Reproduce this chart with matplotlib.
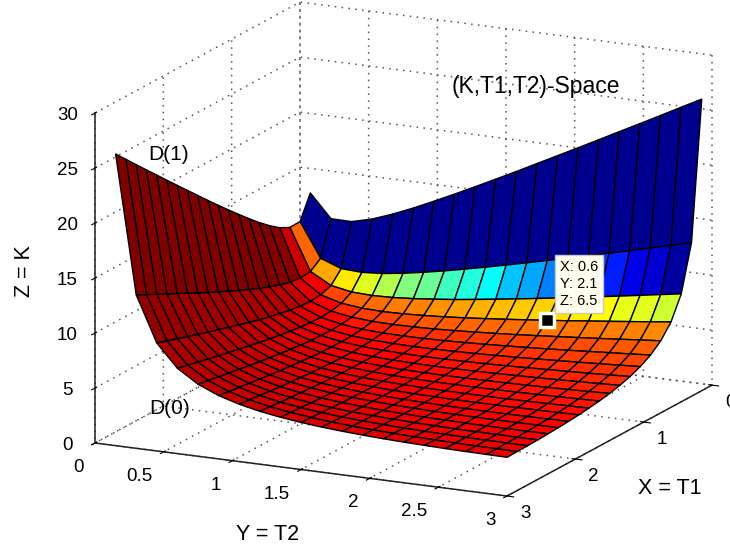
#!/usr/bin/env python3
import numpy as np
import matplotlib
matplotlib.use("Agg")
import matplotlib.pyplot as plt
from matplotlib.colors import LinearSegmentedColormap
from mpl_toolkits.mplot3d import proj3d

W, H = 730, 544

t1 = [0.15, 0.3, 0.45, 0.6, 0.75, 0.9, 1.05, 1.2, 1.35, 1.5,
      1.65, 1.8, 1.95, 2.1, 2.25, 2.4, 2.55, 2.7, 2.85, 3.0]
t2 = list(t1)

# K. The surface is mirrored about T1 = T2, so only the
# part with T1 >= T2 is listed, one row per T2 value.
k_upper = [
    [13.4, 11.3, 11.27, 11.75, 12.44, 13.23, 14.09, 14.98, 15.89, 16.82,
     17.76, 18.72, 19.68, 20.64, 21.61, 22.59, 23.56, 24.54, 25.53, 26.51],
    [8.2, 7.5, 7.4, 7.54, 7.8, 8.13, 8.5, 8.9, 9.32, 9.75,
     10.2, 10.65, 11.11, 11.58, 12.05, 12.52, 13.0, 13.48, 13.96],
    [6.47, 6.12, 6.04, 6.1, 6.24, 6.43, 6.64, 6.89, 7.15, 7.42,
     7.7, 7.99, 8.28, 8.58, 8.88, 9.19, 9.5, 9.81],
    [5.6, 5.39, 5.33, 5.36, 5.45, 5.57, 5.72, 5.89, 6.07, 6.26,
     6.46, 6.66, 6.88, 7.09, 7.31, 7.53, 7.76],
    [5.08, 4.94, 4.9, 4.92, 4.97, 5.06, 5.17, 5.29, 5.42, 5.57,
     5.72, 5.88, 6.04, 6.21, 6.38, 6.55],
    [4.73, 4.63, 4.6, 4.61, 4.65, 4.72, 4.8, 4.9, 5.0, 5.11,
     5.23, 5.36, 5.49, 5.62, 5.76],
    [4.49, 4.41, 4.38, 4.39, 4.42, 4.47, 4.54, 4.61, 4.7, 4.79,
     4.89, 4.99, 5.1, 5.21],
    [4.3, 4.24, 4.22, 4.23, 4.25, 4.29, 4.34, 4.41, 4.48, 4.55,
     4.63, 4.72, 4.81],
    [4.16, 4.11, 4.09, 4.09, 4.11, 4.15, 4.19, 4.24, 4.3, 4.37, 4.44, 4.51],
    [4.04, 4.0, 3.99, 3.99, 4.01, 4.03, 4.07, 4.11, 4.16, 4.22, 4.28],
    [3.95, 3.91, 3.9, 3.9, 3.92, 3.94, 3.97, 4.01, 4.05, 4.1],
    [3.87, 3.84, 3.83, 3.83, 3.84, 3.86, 3.89, 3.92, 3.96],
    [3.8, 3.78, 3.77, 3.77, 3.78, 3.8, 3.82, 3.85],
    [3.74, 3.72, 3.71, 3.71, 3.72, 3.74, 3.76],
    [3.69, 3.68, 3.67, 3.67, 3.68, 3.69],
    [3.65, 3.63, 3.63, 3.63, 3.64],
    [3.61, 3.6, 3.59, 3.59],
    [3.58, 3.57, 3.56],
    [3.55, 3.54],
    [3.52],
]

# Colour of each face (0 = dark blue, 1 = dark red), one row per T1 band
face_c = [
    [0.0, 0.0, 0.0, 0.0, 0.0, 0.0, 0.0, 0.0, 0.0, 0.0,
     0.0, 0.0, 0.0, 0.0, 0.0, 0.0, 0.0, 0.0, 0.0],
    [.777, .708, .645, .59, .55, .5, .48, .435, .41, .375,
     .32, .29, .25, .22, .18, .155, .105, .075, .02],
    [.924, .89, .806, .777, .767, .752, .747, .728, .718, .703,
     .689, .679, .669, .654, .64, .625, .605, .595, .575],
    [.99, .905, .88, .836, .816, .806, .797, .787, .782, .777,
     .772, .767, .762, .759, .757, .755, .752, .747, .742],
    [.995, .93, .895, .875, .855, .846, .836, .831, .826, .821,
     .816, .811, .806, .801, .798, .797, .792, .789, .785],
    [1, .94, .91, .885, .875, .865, .858, .852, .846, .841,
     .836, .831, .826, .822, .818, .815, .812, .808, .805],
    [1, .95, .92, .895, .885, .875, .87, .865, .86, .855,
     .85, .846, .842, .838, .835, .832, .829, .826, .823],
    [1, .955, .925, .905, .895, .885, .878, .873, .868, .863,
     .858, .854, .85, .847, .844, .841, .838, .835, .832],
    [1, .96, .93, .91, .9, .892, .885, .879, .874, .869,
     .865, .861, .857, .854, .851, .848, .845, .842, .84],
    [1, .96, .935, .915, .905, .897, .89, .884, .879, .875,
     .871, .867, .864, .861, .858, .855, .852, .85, .848],
    [1, .965, .94, .92, .91, .902, .895, .889, .884, .88,
     .876, .872, .869, .866, .863, .86, .858, .856, .854],
    [1, .965, .945, .925, .915, .907, .9, .894, .889, .885,
     .881, .877, .874, .871, .868, .866, .864, .862, .86],
    [1, .97, .945, .93, .92, .91, .905, .899, .894, .89,
     .886, .882, .879, .876, .873, .871, .869, .867, .866],
    [1, .97, .95, .935, .925, .915, .909, .903, .898, .894,
     .89, .887, .884, .881, .878, .876, .874, .873, .872],
    [1, .97, .95, .938, .928, .92, .913, .907, .902, .898,
     .894, .891, .888, .885, .883, .881, .88, .878, .877],
    [1, .975, .955, .94, .93, .923, .917, .911, .906, .902,
     .898, .895, .892, .89, .888, .886, .884, .883, .882],
    [1, .975, .955, .943, .933, .926, .92, .915, .91, .906,
     .902, .899, .896, .894, .892, .89, .889, .888, .887],
    [1, .975, .96, .945, .936, .929, .923, .918, .914, .91,
     .906, .903, .9, .898, .896, .895, .893, .892, .891],
    [1, .98, .96, .948, .938, .932, .926, .921, .917, .913,
     .91, .907, .904, .902, .9, .899, .898, .896, .895],
]

x_ticks = [0, 1, 2, 3]
y_ticks = [0, 0.5, 1, 1.5, 2, 2.5, 3]
y_ticklabels = ["0", "0.5", "1", "1.5", "2", "2.5", "3"]
z_ticks = [0, 5, 10, 15, 20, 25, 30]

cursor = (0.6, 2.1, 6.5)


def place_box(ax, corner_a, corner_b, target_a, target_b):
    """Move a square 3d axes so two box corners land on given pixels."""
    ax.set_position([100 / W, 20 / H, 500 / W, 500 / H])
    m = ax.get_proj()
    pts = []
    for c in (corner_a, corner_b):
        x2, y2, _ = proj3d.proj_transform(c[0], c[1], c[2], m)
        pts.append(ax.transData.transform((x2, y2)))
    ua = (pts[0] - [100, 20]) / 500
    ub = (pts[1] - [100, 20]) / 500
    ta = np.array([target_a[0], H - target_a[1]], float)
    tb = np.array([target_b[0], H - target_b[1]], float)
    s = np.linalg.norm(tb - ta) / np.linalg.norm(ub - ua)
    left, bottom = ta - ua * s
    ax.set_position([left / W, bottom / H, s / W, s / H])


def px_text(fig, x, y, s, **kw):
    # text placed by pixel position measured from the top left
    return fig.text(x / W, 1 - y / H, s, ha="center", va="center", **kw)


def main():
    plt.rcParams["font.family"] = ["Liberation Sans", "DejaVu Sans"]
    plt.rcParams["grid.linestyle"] = (0, (1, 3.5))
    plt.rcParams["grid.color"] = "#555555"
    plt.rcParams["grid.linewidth"] = 1.1
    plt.rcParams["axes.linewidth"] = 1.1

    n = len(t1)
    k = np.zeros((n, n))
    for j, row in enumerate(k_upper):
        for i, val in enumerate(row):
            k[i + j, j] = val
            k[j, i + j] = val
    t1g, t2g = np.meshgrid(t1, t2, indexing="ij")

    # same stops as the MATLAB jet map
    jet = LinearSegmentedColormap.from_list(
        "mjet",
        [(0, (0, 0, 0.5625)), (0.125, (0, 0, 1)), (0.375, (0, 1, 1)),
         (0.625, (1, 1, 0)), (0.875, (1, 0, 0)), (1, (0.5, 0, 0))],
    )

    fig = plt.figure(figsize=(W / 100, H / 100), dpi=100)
    ax = fig.add_subplot(projection="3d", computed_zorder=False)
    ax.set_proj_type("ortho")
    ax.view_init(elev=15.3, azim=26.0)
    ax.set_box_aspect((467.6, 458.4, 342.1))
    ax.set_xlim(0, 3)
    ax.set_ylim(0, 3)
    ax.set_zlim(0, 30)

    ax.plot_surface(
        t1g, t2g, k,
        facecolors=jet(np.array(face_c)),
        rcount=n, ccount=n,
        edgecolor="black", linewidth=1.0,
        shade=False, zorder=2,
    )
    ax.plot(
        [cursor[0]], [cursor[1]], [cursor[2]],
        marker="s", ms=10, mfc="black", mec="#fffff0", mew=2.5, zorder=5,
    )

    ax.set_xticks(x_ticks)
    ax.set_yticks(y_ticks)
    ax.set_yticklabels(y_ticklabels)
    ax.set_zticks(z_ticks)
    ax.tick_params(axis="x", labelsize=13.5, pad=4)
    ax.tick_params(axis="y", labelsize=13.5, pad=7)
    ax.tick_params(axis="z", labelsize=13.5, pad=4)

    for axis in (ax.xaxis, ax.yaxis, ax.zaxis):
        axis.set_pane_color((1, 1, 1, 0))
        axis.pane.set_edgecolor("none")
        axis.line.set_color("#222222")
        for lab in axis.get_ticklabels():
            lab.set_va("center")
    for lab in ax.yaxis.get_ticklabels():
        lab.set_ha("right")

    place_box(ax, (3, 0, 0), (0, 3, 0), (95, 443), (712, 385))

    px_text(fig, 536, 86, "(K,T1,T2)-Space", fontsize=16.5)
    px_text(fig, 169, 154, "D(1)", fontsize=15)
    px_text(fig, 170, 408, "D(0)", fontsize=15)
    px_text(fig, 25, 271, "Z = K", fontsize=15.5, rotation=90)
    px_text(fig, 268, 535, "Y = T2", fontsize=15.5)
    px_text(fig, 670, 488, "X = T1", fontsize=15.5)
    px_text(
        fig, 579, 284, "X: 0.6\nY: 2.1\nZ: 6.5", fontsize=10.5, linespacing=1.25,
        bbox=dict(boxstyle="square,pad=0.35", fc="#fffff0", ec="#c8c8c0", lw=1),
    )

    fig.savefig("out.png", dpi=100)
    plt.close(fig)


if __name__ == "__main__":
    main()
